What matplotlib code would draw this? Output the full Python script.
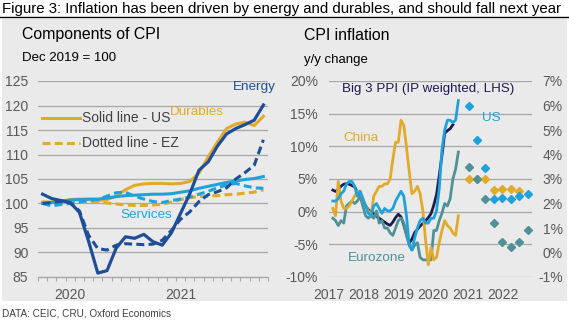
import numpy as np
import matplotlib.pyplot as plt
from matplotlib.patches import Rectangle
from matplotlib.lines import Line2D

plt.rcParams['font.family'] = ['Liberation Sans', 'DejaVu Sans']

# ---- left panel: CPI components, Dec 2019 = 100, monthly Oct 2019 - Oct 2021
comp_years = ["2020", "2021"]
comp_year_idx = [3, 15]
energy_us = [101.9, 101.0, 100.6, 100.2, 98.2, 92.3, 85.8, 86.3, 90.9, 93.2, 92.9, 93.7, 92.2,
             91.5, 94.0, 98.0, 102.0, 106.8, 108.5, 111.7, 114.2, 115.3, 116.1, 117.0, 120.1]
energy_ez = [100.0, 100.2, 100.4, 100.1, 98.5, 93.5, 90.8, 90.5, 91.5, 91.8, 91.7, 91.6, 91.7,
             92.5, 94.5, 96.8, 98.3, 100.4, 101.8, 102.4, 103.2, 105.0, 106.3, 107.8, 113.0]
durables_us = [100.3, 100.3, 100.4, 100.8, 100.9, 100.8, 100.6, 100.8, 101.5, 102.8, 103.7, 104.0, 104.1,
               104.1, 104.0, 104.1, 104.5, 106.2, 109.5, 112.5, 115.3, 116.2, 116.6, 115.9, 117.8]
durables_ez = [100.3, 100.0, 100.0, 100.2, 100.4, 100.5, 100.3, 100.1, 99.9, 99.7, 99.6, 99.6, 99.7,
               99.8, 100.3, 100.8, 101.2, 101.4, 101.5, 101.6, 101.8, 101.9, 102.1, 102.3, 102.8]
services_us = [100.0, 100.2, 100.5, 100.7, 100.8, 100.9, 100.9, 101.1, 101.4, 101.6, 101.7, 101.8, 101.9,
               101.9, 102.0, 102.3, 102.6, 103.1, 103.5, 103.9, 104.3, 104.6, 104.9, 105.1, 105.5]
services_ez = [100.0, 99.5, 99.8, 100.0, 100.3, 100.6, 100.8, 101.5, 102.2, 102.3, 101.5, 100.9, 100.4,
               100.2, 100.6, 100.9, 101.3, 101.9, 102.5, 103.2, 103.8, 104.1, 103.6, 103.2, 103.1]

# ---- right panel: y/y inflation, monthly Dec 2017 - Oct 2021
us_cpi = [2.1, 2.1, 2.2, 2.4, 2.5, 2.8, 2.9, 2.9, 2.7, 2.3, 2.5, 2.2, 1.9,
          1.6, 1.5, 1.9, 2.0, 1.8, 1.6, 1.8, 1.7, 1.7, 1.8, 2.1, 2.3,
          2.5, 2.3, 1.5, 0.3, 0.1, 0.6, 1.0, 1.3, 1.4, 1.2, 1.2, 1.4,
          1.4, 1.7, 2.6, 4.2, 5.0, 5.4, 5.4, 5.3, 5.4, 6.2]
ez_cpi = [1.4, 1.3, 1.1, 1.3, 1.2, 1.9, 2.0, 2.1, 2.0, 2.1, 2.3, 1.9, 1.5,
          1.4, 1.5, 1.4, 1.7, 1.2, 1.3, 1.0, 1.0, 0.8, 0.7, 1.0, 1.3,
          1.4, 1.2, 0.7, 0.3, 0.1, 0.3, 0.4, -0.2, -0.3, -0.3, -0.3, -0.3,
          0.9, 0.9, 1.3, 1.6, 2.0, 1.9, 2.2, 3.0, 3.4, 4.1]
china_cpi = [1.8, 1.5, 2.9, 2.1, 1.8, 1.8, 1.9, 2.1, 2.3, 2.5, 2.5, 2.2, 1.9,
             1.7, 1.5, 2.3, 2.5, 2.7, 2.7, 2.8, 2.8, 3.0, 3.8, 4.5, 4.5,
             5.4, 5.2, 4.3, 3.3, 2.4, 2.5, 2.7, 2.4, 1.7, 0.5, -0.5, 0.2,
             -0.3, -0.2, 0.4, 0.9, 1.3, 1.1, 1.0, 0.8, 0.7, 1.5]
big3_ppi = [3.3, 3.1, 3.4, 3.9, 4.2, 4.3, 4.2, 4.0, 3.8, 3.0, 2.3, 1.6, 0.9,
            0.3, 0.0, -0.3, -0.7, -1.0, -1.3, -1.6, -1.9, -2.1, -1.6, -0.9, -0.4,
            -0.8, -2.0, -3.5, -4.8, -4.2, -3.2, -2.7, -2.2, -1.8, -1.4, -0.9, -0.3,
            1.0, 2.6, 5.5, 8.6, 12.0, 12.4, 12.7, 13.3]
infl_years = ["2017", "2018", "2019", "2020", "2021", "2022"]

# quarterly forecasts (RHS)
quarters = [f"{y}Q{q}" for y in range(2017, 2023) for q in range(1, 5)]
fc_quarters = quarters[16:]
us_fc = [6.0, 4.6, 3.45, 2.18, 2.21, 2.18, 2.32, 2.39]
ez_fc = [3.5, 3.0, 2.18, 1.22, 0.44, 0.21, 0.44, 0.92]
china_fc = [3.0, 3.0, 3.0, 2.55, 2.58, 2.58, 2.52, np.nan]

c_energy = '#1F4E99'
c_gold = '#E2AA2A'
c_cyan = '#1FA2DC'
c_navy = '#1E1C4F'
c_teal = '#4E9297'
c_text = '#404040'
c_tick = '#595959'
c_grid = '#A8A8A8'
dash = (0, (2.6, 1.4))

W, H = 569, 321
fig = plt.figure(figsize=(W / 100, H / 100), dpi=100)

def fx(px):
    return px / W

def fy(py):
    return 1 - py / H

fig.patches.append(Rectangle((fx(2), fy(301)), fx(565), 282 / H, transform=fig.transFigure,
                             facecolor='#EAEAEA', edgecolor='none', zorder=-5))
fig.text(fx(2), fy(9), "Figure 3: Inflation has been driven by energy and durables, and should fall next year",
         fontsize=10.8, color='black', va='center', ha='left')
fig.lines.append(Line2D([0, 1], [fy(17), fy(17)], transform=fig.transFigure, color='black', lw=1.0, zorder=-4))
fig.text(fx(2), fy(313), "DATA: CEIC, CRU, Oxford Economics", fontsize=7.2, color=c_text, va='center')

# ---------------- left panel
ax = fig.add_axes([fx(38), fy(277), fx(230), 196 / H])
ax.set_facecolor('none')
x = np.arange(len(energy_us))
ax.plot(x, durables_us, color=c_gold, lw=2.2, zorder=3)
ax.plot(x, durables_ez, color=c_gold, lw=2.2, ls=dash, zorder=3)
ax.plot(x, services_us, color=c_cyan, lw=2.2, zorder=4)
ax.plot(x, services_ez, color=c_cyan, lw=2.2, ls=dash, zorder=4)
ax.plot(x, energy_ez, color=c_energy, lw=2.2, ls=dash, zorder=5)
ax.plot(x, energy_us, color=c_energy, lw=2.3, zorder=6)
ax.set_xlim(-0.5, len(x) - 0.5)
ax.set_ylim(85, 125)
ax.set_yticks(np.arange(85, 126, 5))
ax.grid(axis='y', color=c_grid, lw=0.9)
ax.set_xticks(comp_year_idx)
ax.set_xticklabels(comp_years)
ax.set_xticks(np.arange(-0.5, len(x), 1), minor=True)
ax.tick_params(axis='x', which='major', length=0, pad=8, labelsize=10, labelcolor=c_tick)
ax.tick_params(axis='x', which='minor', length=3, color=c_grid, width=0.8)
ax.tick_params(axis='y', length=0, pad=7, labelsize=10, labelcolor=c_tick)
for s in ['top', 'right', 'left']:
    ax.spines[s].set_visible(False)
ax.spines['bottom'].set_color(c_grid)
ax.spines['bottom'].set_linewidth(0.9)

ax.plot([0.017, 0.183], [0.811, 0.811], transform=ax.transAxes, color=c_gold, lw=2.2, clip_on=False)
ax.plot([0.017, 0.183], [0.684, 0.684], transform=ax.transAxes, color=c_gold, lw=2.2,
        ls=dash, clip_on=False)
ax.text(0.19, 0.811, "Solid line - US", transform=ax.transAxes, fontsize=10, color=c_text, va='center')
ax.text(0.19, 0.684, "Dotted line - EZ", transform=ax.transAxes, fontsize=10, color=c_text, va='center')

fig.text(fx(170), fy(112), "Durables", fontsize=9.7, color=c_gold, va='center')
fig.text(fx(233), fy(87), "Energy", fontsize=9.7, color=c_energy, va='center')
fig.text(fx(120), fy(215), "Services", fontsize=9.7, color=c_cyan, va='center')
fig.text(fx(22), fy(35), "Components of CPI", fontsize=11.4, color='black', va='center')
fig.text(fx(22), fy(58), "Dec 2019 = 100", fontsize=9.5, color='black', va='center')

# ---------------- right panel
bx = fig.add_axes([fx(329), fy(277), fx(203), 196 / H])
bx.set_facecolor('none')
bx.set_ylim(-10, 20)
bx.set_yticks(np.arange(-10, 21, 5))
bx.set_yticklabels([f"{v}%" for v in range(-10, 21, 5)])
bx.grid(axis='y', color=c_grid, lw=0.9)
xm = np.arange(len(us_cpi))
bx.plot(np.arange(len(big3_ppi)), big3_ppi, color=c_navy, lw=2.0, zorder=3)
bx.set_xlim(0, 73)
bx.set_xticks(np.linspace(-1.4, 62.2, len(infl_years)))
bx.set_xticklabels(infl_years)
bx.tick_params(axis='x', length=0, pad=8, labelsize=10, labelcolor=c_tick)
bx.tick_params(axis='y', length=0, pad=8, labelsize=10, labelcolor=c_tick)
for s in bx.spines.values():
    s.set_visible(False)

rx = bx.twinx()
rx.set_ylim(-1, 7)
rx.set_yticks(np.arange(-1, 8, 1))
rx.set_yticklabels([f"{v}%" for v in range(-1, 8)])
for lab in rx.get_yticklabels():
    lab.set_horizontalalignment('right')
rx.tick_params(axis='y', length=0, pad=22, labelsize=10, labelcolor=c_tick)
for s in rx.spines.values():
    s.set_visible(False)
rx.plot(xm, ez_cpi, color=c_teal, lw=2.0, zorder=3)
rx.plot(xm, china_cpi, color=c_gold, lw=2.0, zorder=4)
rx.plot(xm, us_cpi, color=c_cyan, lw=2.0, zorder=5)

qx = fig.add_axes(bx.get_position(), facecolor='none')
qx.set_xlim(-0.5, len(quarters) - 0.5)
qx.set_ylim(-1, 7)
qx.axis('off')
qpos = [quarters.index(q) for q in fc_quarters]
qx.plot(qpos, china_fc, ls='none', marker='D', ms=4.3, color=c_gold)
qx.plot(qpos, us_fc, ls='none', marker='D', ms=4.3, color=c_cyan)
qx.plot(qpos, ez_fc, ls='none', marker='D', ms=4.3, color=c_teal)

fig.text(fx(304), fy(36), "CPI inflation", fontsize=11.4, color='black', va='center')
fig.text(fx(304), fy(60), "y/y change", fontsize=9.5, color='black', va='center')
fig.text(fx(342), fy(89), "Big 3 PPI (IP weighted, LHS)", fontsize=9.6, color=c_navy, va='center')
fig.text(fx(482), fy(118), "US", fontsize=9.7, color=c_cyan, va='center')
fig.text(fx(343), fy(138), "China", fontsize=9.7, color=c_gold, va='center')
fig.text(fx(348), fy(258), "Eurozone", fontsize=9.7, color=c_teal, va='center')

fig.savefig("out.png", dpi=100)
